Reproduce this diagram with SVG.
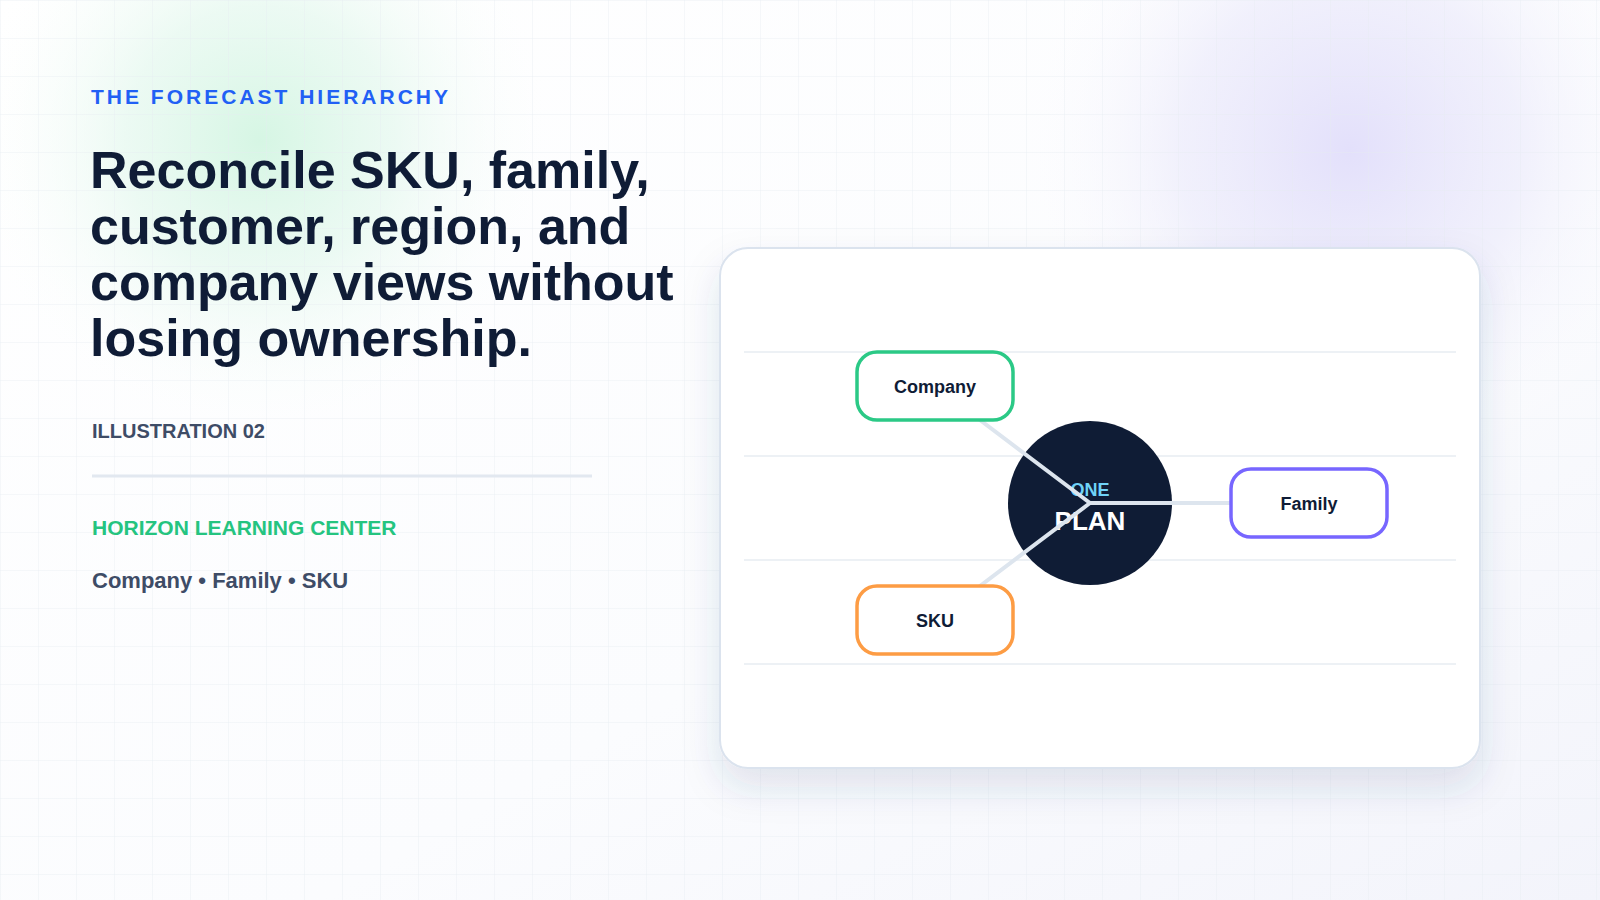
<svg xmlns="http://www.w3.org/2000/svg" width="1600" height="900" viewBox="0 0 1600 900">
  <defs>
    <linearGradient id="bg" x1="0" y1="0" x2="1" y2="1">
      <stop offset="0" stop-color="#ffffff"/>
      <stop offset="0.6" stop-color="#fbfcfe"/>
      <stop offset="1" stop-color="#f3f4fb"/>
    </linearGradient>
    <radialGradient id="glowGreen" cx="260" cy="140" r="300" gradientUnits="userSpaceOnUse">
      <stop offset="0" stop-color="#d6f6e4" stop-opacity="1"/>
      <stop offset="0.45" stop-color="#e4f8ee" stop-opacity="0.7"/>
      <stop offset="1" stop-color="#ffffff" stop-opacity="0"/>
    </radialGradient>
    <radialGradient id="glowPurple" cx="1350" cy="150" r="340" gradientUnits="userSpaceOnUse">
      <stop offset="0" stop-color="#e3e0fb" stop-opacity="1"/>
      <stop offset="0.5" stop-color="#ecebfb" stop-opacity="0.7"/>
      <stop offset="1" stop-color="#ffffff" stop-opacity="0"/>
    </radialGradient>
    <pattern id="grid" width="38" height="38" patternUnits="userSpaceOnUse">
      <path d="M38 0 L0 0 0 38" fill="none" stroke="#e6ebf1" stroke-width="1" opacity="0.7"/>
    </pattern>
    <filter id="cardShadow" x="-10%" y="-10%" width="120%" height="130%">
      <feDropShadow dx="0" dy="18" stdDeviation="18" flood-color="#3a4d7a" flood-opacity="0.13"/>
    </filter>
    <style>
      .eyebrow { font-family: "Liberation Sans", Arial, sans-serif; font-weight: 700; font-size: 21px; letter-spacing: 3px; fill: #2160f5; }
      .title { font-family: "Liberation Sans", Arial, sans-serif; font-weight: 700; font-size: 52px; fill: #0f1c36; }
      .meta { font-family: "Liberation Sans", Arial, sans-serif; font-weight: 700; font-size: 20px; fill: #3e4c66; }
      .org { font-family: "Liberation Sans", Arial, sans-serif; font-weight: 700; font-size: 21px; fill: #25c480; }
      .crumbs { font-family: "Liberation Sans", Arial, sans-serif; font-weight: 700; font-size: 22px; fill: #3e4c66; }
      .lane { stroke: #edf1f5; stroke-width: 2; }
      .node { fill: #ffffff; stroke-width: 3.5; }
      .label { font-family: "Liberation Sans", Arial, sans-serif; font-weight: 700; font-size: 18px; fill: #0f1c36; text-anchor: middle; }
      .conn { stroke: #dde5ee; stroke-width: 4; stroke-linecap: round; fill: none; }
    </style>
  </defs>

  <!-- background -->
  <rect x="0" y="0" width="1600" height="900" fill="url(#bg)"/>
  <rect x="0" y="0" width="1600" height="900" fill="url(#glowGreen)"/>
  <rect x="0" y="0" width="1600" height="900" fill="url(#glowPurple)"/>
  <rect x="0" y="0" width="1600" height="900" fill="url(#grid)"/>

  <!-- left text -->
  <g id="intro">
    <text class="eyebrow" x="91" y="104">THE FORECAST HIERARCHY</text>
    <text class="title" x="90" y="188">Reconcile SKU, family,</text>
    <text class="title" x="90" y="244">customer, region, and</text>
    <text class="title" x="90" y="300">company views without</text>
    <text class="title" x="90" y="356">losing ownership.</text>
    <text class="meta" x="92" y="438">ILLUSTRATION 02</text>
    <line x1="92" y1="476" x2="592" y2="476" stroke="#e2e8f0" stroke-width="3"/>
    <text class="org" x="92" y="535">HORIZON LEARNING CENTER</text>
    <text class="crumbs" x="92" y="588">Company • Family • SKU</text>
  </g>

  <!-- card -->
  <g id="card">
    <rect x="720" y="248" width="760" height="520" rx="28" fill="#ffffff" stroke="#dbe3ee" stroke-width="2" filter="url(#cardShadow)"/>
    <line class="lane" x1="744" y1="352" x2="1456" y2="352"/>
    <line class="lane" x1="744" y1="456" x2="1456" y2="456"/>
    <line class="lane" x1="744" y1="560" x2="1456" y2="560"/>
    <line class="lane" x1="744" y1="664" x2="1456" y2="664"/>
  </g>

  <!-- hub -->
  <g id="node-hub">
    <circle cx="1090" cy="503" r="82" fill="#0f1c35"/>
    <text x="1090" y="496" text-anchor="middle" font-family="'Liberation Sans', Arial, sans-serif" font-weight="700" font-size="18" fill="#6fd3f7">ONE</text>
    <text x="1090" y="530" text-anchor="middle" font-family="'Liberation Sans', Arial, sans-serif" font-weight="700" font-size="26" fill="#ffffff">PLAN</text>
  </g>

  <!-- connectors -->
  <g id="connectors">
    <line class="conn" x1="1090" y1="503" x2="935" y2="386"/>
    <line class="conn" x1="1090" y1="503" x2="1309" y2="503"/>
    <line class="conn" x1="1090" y1="503" x2="935" y2="620"/>
  </g>

  <!-- nodes -->
  <g id="node-company">
    <rect class="node" x="857" y="352" width="156" height="68" rx="20" stroke="#2bc986"/>
    <text class="label" x="935" y="393">Company</text>
  </g>
  <g id="node-family">
    <rect class="node" x="1231" y="469" width="156" height="68" rx="20" stroke="#7766ff"/>
    <text class="label" x="1309" y="510">Family</text>
  </g>
  <g id="node-sku">
    <rect class="node" x="857" y="586" width="156" height="68" rx="20" stroke="#fd9c44"/>
    <text class="label" x="935" y="627">SKU</text>
  </g>
</svg>
